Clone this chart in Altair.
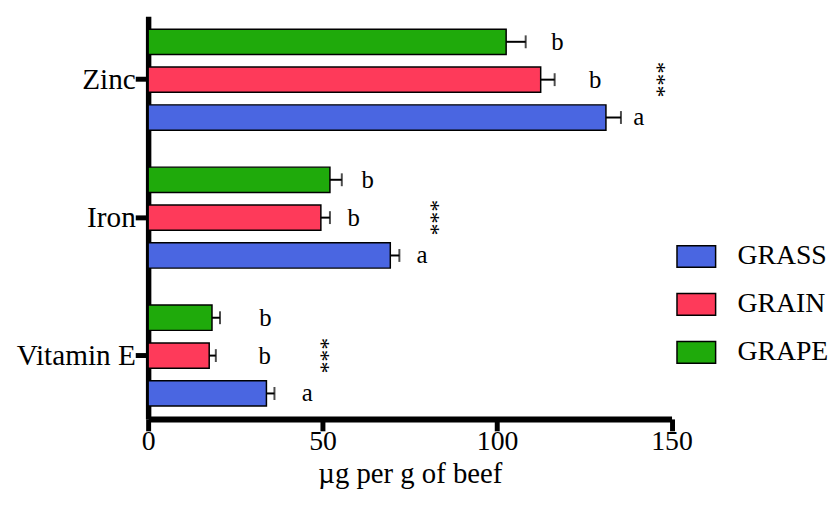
import altair as alt
import pandas as pd

# ---- data ----
nutrients = ["Zinc", "Iron", "Vitamin E"]
diets = ["GRASS", "GRAIN", "GRAPE"]
diet_colors = ["#4a66e1", "#fe3a5a", "#1faa0b"]
bar_order = ["GRAPE", "GRAIN", "GRASS"]  # top to bottom inside a group

grass_mean = [131.2, 69.4, 33.9]
grain_mean = [112.5, 49.5, 17.5]
grape_mean = [102.6, 52.1, 18.3]

grass_err = [4.3, 2.6, 2.3]
grain_err = [4.0, 2.6, 1.9]
grape_err = [5.6, 3.4, 2.3]

grass_letter = ["a", "a", "a"]
grain_letter = ["b", "b", "b"]
grape_letter = ["b", "b", "b"]

grass_letter_x = [140.6, 78.5, 45.6]
grain_letter_x = [128.1, 58.9, 33.4]
grape_letter_x = [117.3, 62.9, 33.6]

stars = ["***", "***", "***"]
stars_x = [145.7, 81.0, 49.5]

x_ticks = [0, 50, 100, 150]

# ---- tables ----
rows = []
for diet, means, errs, letters, lxs in [
    ("GRASS", grass_mean, grass_err, grass_letter, grass_letter_x),
    ("GRAIN", grain_mean, grain_err, grain_letter, grain_letter_x),
    ("GRAPE", grape_mean, grape_err, grape_letter, grape_letter_x),
]:
    for n, m, e, l, lx in zip(nutrients, means, errs, letters, lxs):
        rows.append({"nutrient": n, "diet": diet, "mean": m, "hi": m + e,
                     "letter": l, "lx": lx})
df = pd.DataFrame(rows)
df_stars = pd.DataFrame({"nutrient": nutrients, "stars": stars, "sx": stars_x})

FONT = "Liberation Serif"

y_enc = alt.Y(
    "nutrient:N", sort=nutrients,
    scale=alt.Scale(paddingInner=0.268, paddingOuter=0.093),
    axis=alt.Axis(title=None, domainColor="black", domainWidth=5.5,
                  tickColor="black", tickWidth=5, tickSize=13,
                  labelFont=FONT, labelFontSize=29.5, labelColor="black",
                  labelPadding=0, grid=False),
)
yoff_enc = alt.YOffset("diet:N", sort=bar_order,
                       scale=alt.Scale(paddingInner=0.332, paddingOuter=0))
x_enc = alt.X(
    "mean:Q", scale=alt.Scale(domain=[0, 150], nice=False),
    axis=alt.Axis(values=x_ticks, title="µg per g of beef", domainColor="black",
                  domainWidth=6, tickColor="black", tickWidth=5, tickSize=12,
                  labelFont=FONT, labelFontSize=28, labelColor="black",
                  labelPadding=-3, labelFlush=False, titleFont=FONT,
                  titleFontSize=29, titleFontWeight="normal",
                  titleColor="black", titlePadding=4, grid=False),
)

base = alt.Chart(df)

bars = base.mark_bar(stroke="black", strokeWidth=1.5).encode(
    x=x_enc,
    y=y_enc,
    yOffset=yoff_enc,
    color=alt.Color(
        "diet:N",
        scale=alt.Scale(domain=diets, range=diet_colors),
        legend=alt.Legend(
            title=None, orient="none", legendX=533, legendY=222,
            symbolType="M-1,-0.56H1V0.56H-1Z", symbolSize=1521,
            symbolStrokeColor="black", symbolStrokeWidth=1.5, symbolOpacity=1,
            labelFont=FONT, labelFontSize=28, labelColor="black",
            labelOffset=21, rowPadding=13.4,
        ),
    ),
)

err_line = base.mark_rule(color="black", strokeWidth=2).encode(
    x="mean:Q", x2="hi:Q", y=alt.Y("nutrient:N", sort=nutrients),
    yOffset=alt.YOffset("diet:N", sort=bar_order),
)
err_cap = base.mark_tick(color="black", thickness=2, size=13,
                         orient="vertical").encode(
    x="hi:Q", y=alt.Y("nutrient:N", sort=nutrients),
    yOffset=alt.YOffset("diet:N", sort=bar_order),
)
letters = base.mark_text(font=FONT, fontSize=25, color="black",
                         align="center", baseline="middle").encode(
    x="lx:Q", y=alt.Y("nutrient:N", sort=nutrients),
    yOffset=alt.YOffset("diet:N", sort=bar_order),
    text="letter:N",
)
star_text = alt.Chart(df_stars).mark_text(
    font=FONT, fontSize=24, color="black", angle=90,
    align="center", baseline="middle").encode(
    x="sx:Q", y=alt.Y("nutrient:N", sort=nutrients), text="stars:N",
)

chart = alt.layer(bars, err_line, err_cap, letters, star_text).properties(
    width=528.5, height=406.5,
    autosize=alt.AutoSizeParams(type="none"),
    padding={"left": 141.5, "top": 6, "right": 160, "bottom": 84},
).configure(
    background="white",
    view=alt.ViewConfig(stroke="transparent", strokeWidth=0),
)

chart.save("out.html", embed_options={"renderer": "svg", "actions": False})
